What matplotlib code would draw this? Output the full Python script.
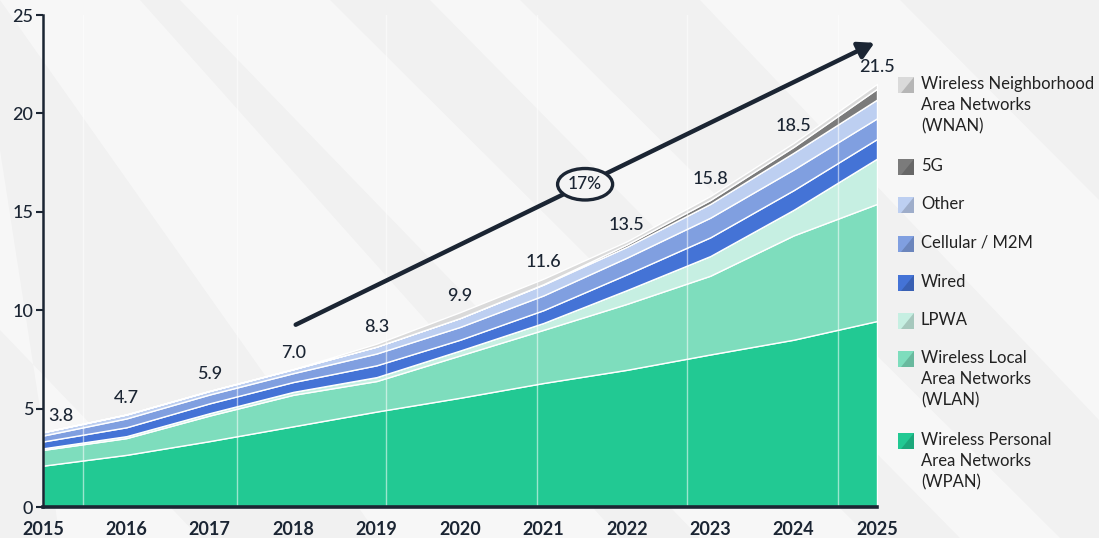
import matplotlib
matplotlib.use("Agg")
import matplotlib.pyplot as plt
from matplotlib.patches import Rectangle, Polygon, Ellipse, FancyArrowPatch

plt.rcParams['font.family'] = ['Lato', 'DejaVu Sans']

# ---- data (billions of connected devices) ----
years = [2015, 2016, 2017, 2018, 2019, 2020, 2021, 2022, 2023, 2024, 2025]
totals = [3.8, 4.7, 5.9, 7.0, 8.3, 9.9, 11.6, 13.5, 15.8, 18.5, 21.5]

wpan = [2.10, 2.65, 3.35, 4.10, 4.85, 5.55, 6.30, 6.97, 7.75, 8.50, 9.45]
wlan = [0.80, 0.85, 1.30, 1.60, 1.55, 2.15, 2.70, 3.35, 4.00, 5.30, 5.95]
lpwa = [0.08, 0.10, 0.12, 0.15, 0.20, 0.25, 0.35, 0.70, 1.00, 1.30, 2.30]
wired = [0.35, 0.45, 0.50, 0.50, 0.60, 0.55, 0.65, 0.80, 0.95, 1.00, 1.00]
cellular = [0.30, 0.45, 0.45, 0.45, 0.60, 0.65, 0.75, 0.85, 1.00, 1.05, 1.05]
other = [0.17, 0.20, 0.18, 0.20, 0.35, 0.45, 0.55, 0.55, 0.70, 0.85, 0.95]
g5 = [0.00, 0.00, 0.00, 0.00, 0.00, 0.00, 0.02, 0.12, 0.20, 0.30, 0.55]
wnan = [0.00, 0.00, 0.00, 0.00, 0.15, 0.30, 0.28, 0.16, 0.20, 0.20, 0.25]

series_names = [
    "Wireless Personal\nArea Networks\n(WPAN)",
    "Wireless Local\nArea Networks\n(WLAN)",
    "LPWA",
    "Wired",
    "Cellular / M2M",
    "Other",
    "5G",
    "Wireless Neighborhood\nArea Networks\n(WNAN)",
]
growth_label = "17%"

colors = ["#22C993", "#7EDDBD", "#C6EFE2", "#4473D6",
          "#809FE0", "#BDCFF1", "#7B7B7B", "#DADADA"]
dark = "#1B2533"

fig = plt.figure(figsize=(10.99, 5.38), dpi=100)
fig.patch.set_facecolor("#F1F1F1")

# soft diagonal light streaks in the backdrop
bg = fig.add_axes([0, 0, 1, 1], zorder=-5)
bg.set_xlim(0, 1099)
bg.set_ylim(538, 0)
bg.axis("off")
streaks = [
    [(0, 0), (140, 0), (620, 538), (380, 538)],
    [(180, 0), (330, 0), (870, 538), (700, 538)],
    [(430, 0), (520, 0), (1060, 538), (960, 538)],
    [(700, 0), (900, 0), (1099, 200), (1099, 420)],
    [(0, 150), (0, 330), (200, 538), (60, 538)],
]
for pts in streaks:
    bg.add_patch(Polygon(pts, closed=True, facecolor="white", alpha=0.45,
                         edgecolor="none"))

ax = fig.add_axes([43 / 1099, 31 / 538, (877 - 43) / 1099, (507 - 15) / 538])
ax.set_facecolor("none")

layers = [wpan, wlan, lpwa, wired, cellular, other, g5, wnan]
ax.stackplot(years, *layers, colors=colors, edgecolor="white", linewidth=1.0,
             zorder=2)

# faint vertical guide lines
for gx in [2015.48, 2017.33, 2019.11, 2020.92, 2022.72, 2024.53]:
    ax.axvline(gx, color="white", lw=1.0, alpha=0.55, zorder=3)

ax.set_xlim(2015, 2025)
ax.set_ylim(0, 25)
ax.set_yticks([0, 5, 10, 15, 20, 25])
ax.set_xticks(years)
ax.set_xticklabels([str(y) for y in years], fontsize=13, fontweight="bold",
                   color=dark)
ax.tick_params(axis="x", length=0, pad=10)
ax.tick_params(axis="y", length=5, width=1.5, color=dark, labelsize=13,
               labelcolor=dark, pad=2)
for lbl in ax.get_yticklabels():
    lbl.set_fontweight("medium")
for s in ["top", "right"]:
    ax.spines[s].set_visible(False)
ax.spines["left"].set_color(dark)
ax.spines["left"].set_linewidth(1.8)
ax.spines["bottom"].set_color(dark)
ax.spines["bottom"].set_linewidth(2.6)
ax.spines["bottom"].set_zorder(5)

# total labels above the stack
for i, (yr, tot) in enumerate(zip(years, totals)):
    dx = 13 if i == 0 else 0
    ax.annotate(f"{tot:.1f}", xy=(yr, tot), xytext=(dx, 12),
                textcoords="offset points", ha="center", va="center",
                fontsize=13, color=dark, zorder=6, annotation_clip=False,
                fontweight="medium")

# growth arrow with CAGR badge
arrow = FancyArrowPatch((2018.0, 9.2), (2025.0, 23.65),
                        arrowstyle="-|>,head_length=9,head_width=5",
                        mutation_scale=1.05, color=dark, lw=3.2, zorder=6,
                        clip_on=False)
ax.add_patch(arrow)
ax.add_patch(Ellipse((2021.5, 16.4), width=0.66, height=1.6, facecolor="#F4F4F4",
                     edgecolor=dark, lw=2.4, zorder=7, clip_on=False))
ax.text(2021.5, 16.4, growth_label, ha="center", va="center", fontsize=12.5,
        color=dark, zorder=8, fontweight="medium")

# legend on the right, top entry first
legend_rows = [85, 167, 205, 244, 283, 321, 359, 441]
order = list(range(len(series_names)))[::-1]
for row_y, idx in zip(legend_rows, order):
    x0, x1 = 898, 914
    y0, y1 = row_y - 8, row_y + 8
    bg.add_patch(Rectangle((x0, y0), x1 - x0, y1 - y0, facecolor=colors[idx],
                           edgecolor="none", zorder=2))
    bg.add_patch(Polygon([(x0 + 3, y1), (x1, y0), (x1, y1)], closed=True,
                         facecolor="black", alpha=0.16, edgecolor="none",
                         zorder=3))
    bg.text(921, row_y - 9, series_names[idx], ha="left", va="top",
            fontsize=12, color="#222222", linespacing=1.4,
            transform=bg.transData, zorder=4)

fig.savefig("out.png", dpi=100, facecolor=fig.get_facecolor())
